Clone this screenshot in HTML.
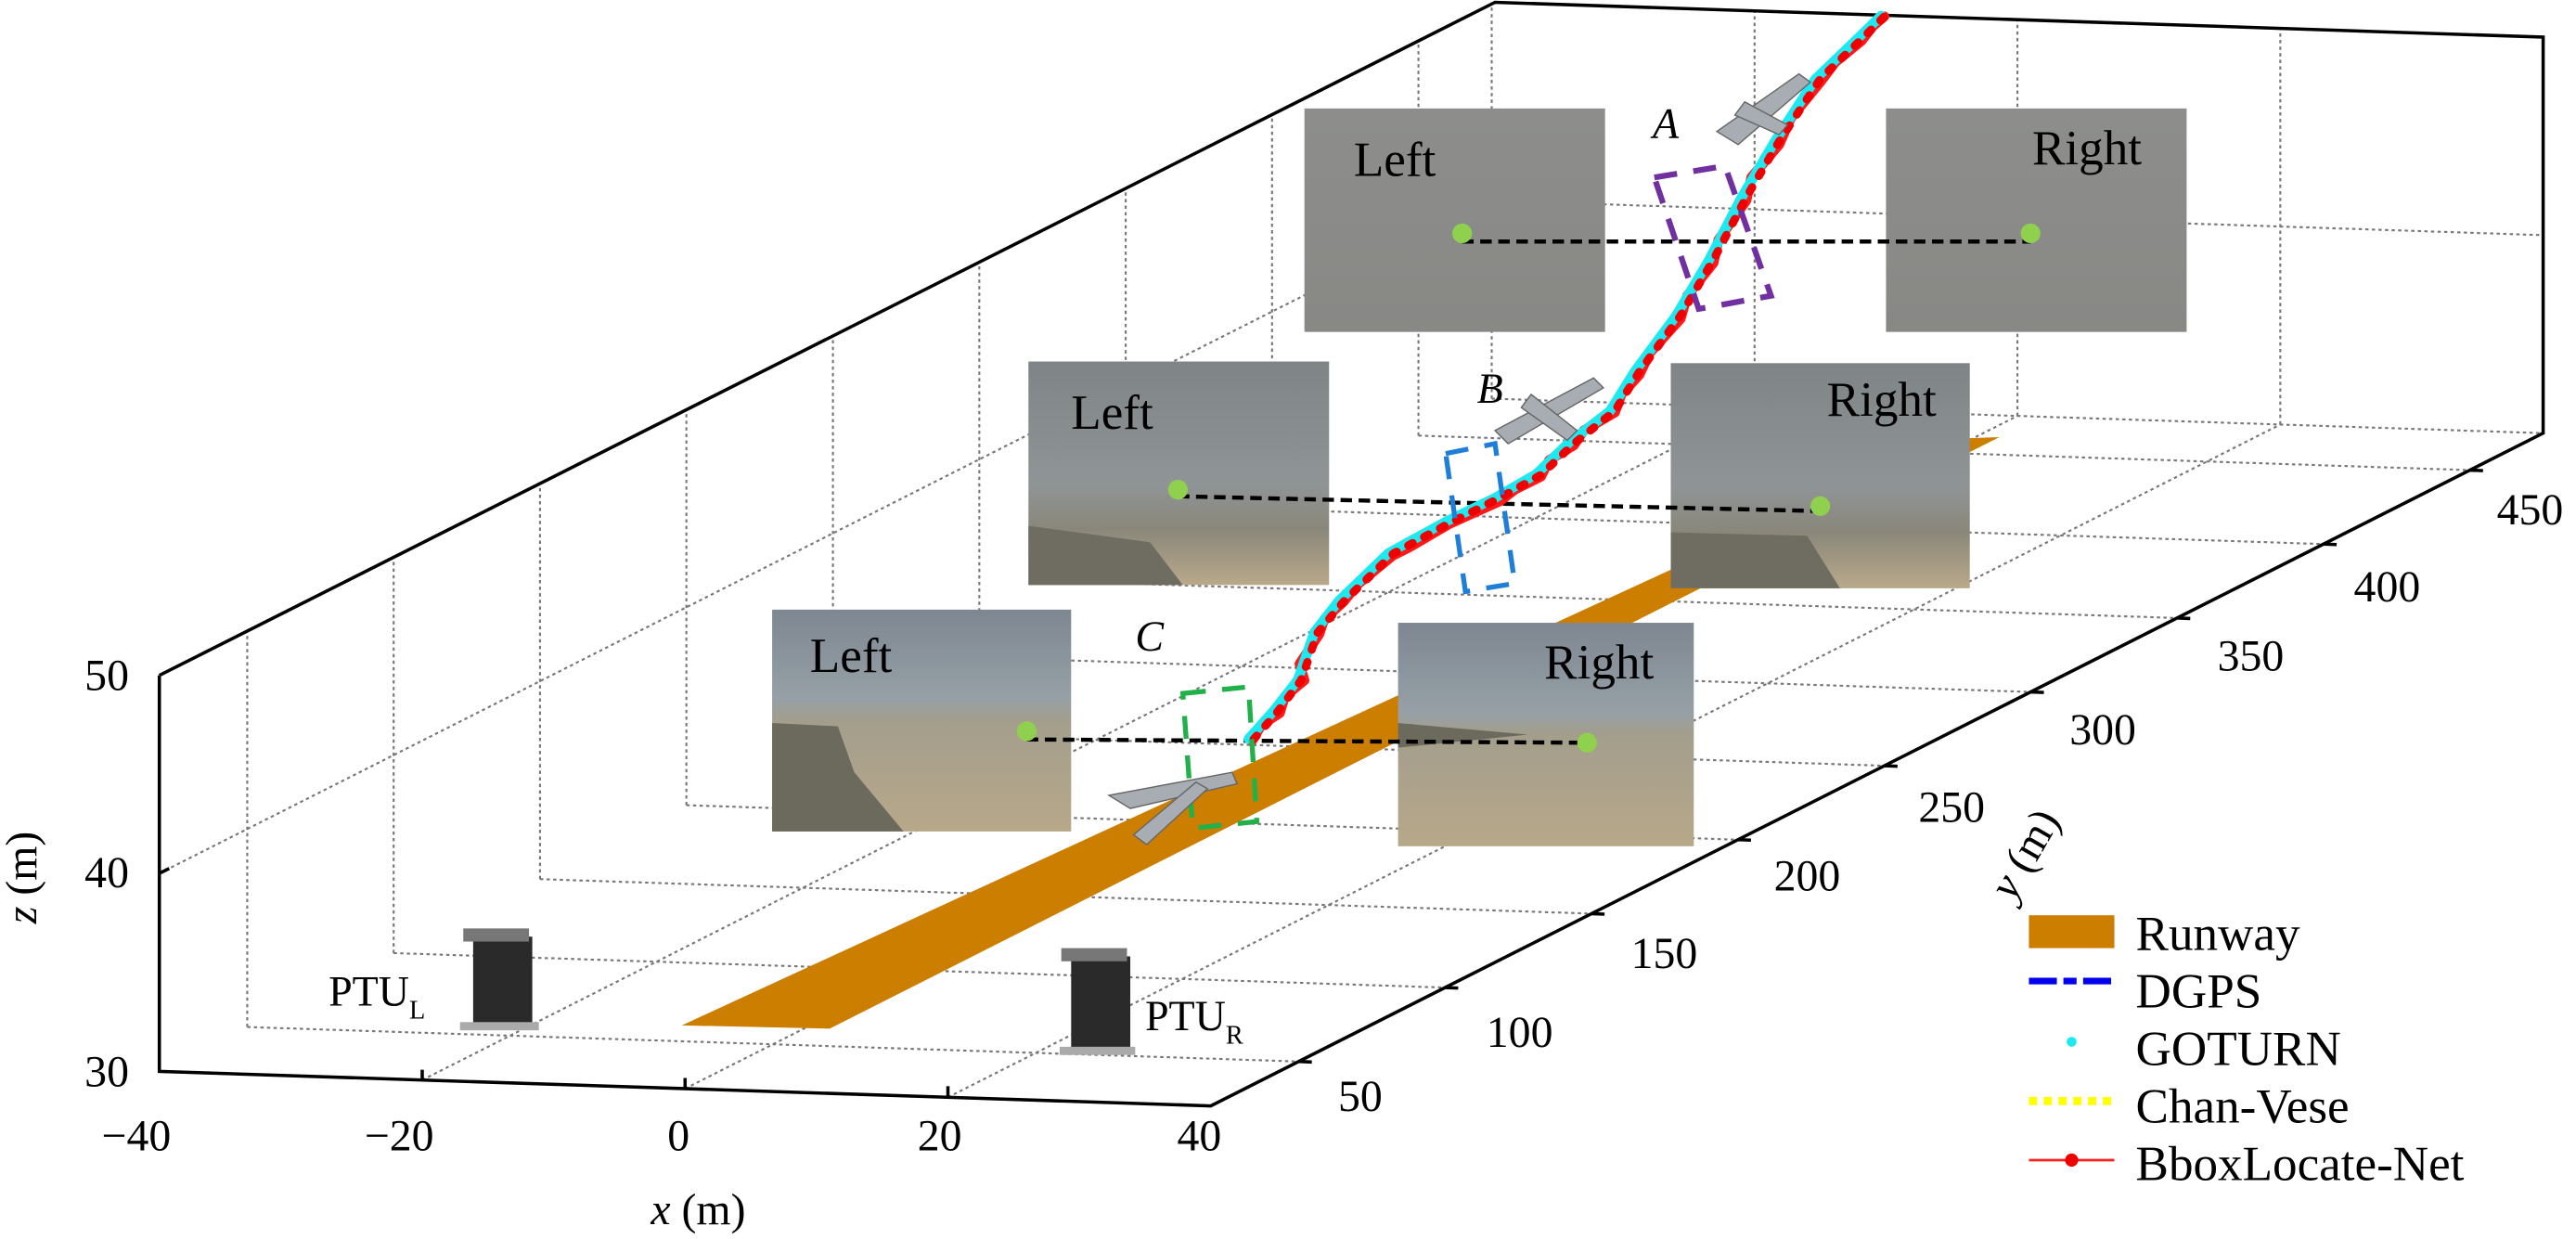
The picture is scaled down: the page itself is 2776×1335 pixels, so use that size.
<!DOCTYPE html>
<html><head><meta charset="utf-8"><style>
html,body{margin:0;padding:0;background:#fff;}
svg{display:block;}
text{font-family:'Liberation Serif','Times New Roman',Times,serif;}
</style></head><body>
<svg width="2776" height="1335" viewBox="0 0 1568 754" preserveAspectRatio="none" xmlns="http://www.w3.org/2000/svg">
<defs>
<linearGradient id="gTop" x1="0" y1="0" x2="0" y2="1"><stop offset="0" stop-color="#8d8e8c"/><stop offset="1" stop-color="#888885"/></linearGradient>
<linearGradient id="gMid" x1="0" y1="0" x2="0" y2="1"><stop offset="0" stop-color="#7f8487"/><stop offset="0.55" stop-color="#8f9496"/><stop offset="0.75" stop-color="#8a877a"/><stop offset="1" stop-color="#b9a98a"/></linearGradient>
<linearGradient id="gBot" x1="0" y1="0" x2="0" y2="1"><stop offset="0" stop-color="#7e8791"/><stop offset="0.4" stop-color="#96a0a6"/><stop offset="0.5" stop-color="#a39e8c"/><stop offset="1" stop-color="#b8a88a"/></linearGradient>
</defs>
<g stroke="#777" stroke-width="1.2" stroke-dasharray="2,2" fill="none">
<line x1="257" y1="657.25" x2="1068" y2="247.85"/><line x1="1068" y1="247.85" x2="1068" y2="6.85"/>
<line x1="417" y1="662.5" x2="1228" y2="253.1"/><line x1="1228" y1="253.1" x2="1228" y2="12.1"/>
<line x1="577" y1="667.75" x2="1388" y2="258.35"/><line x1="1388" y1="258.35" x2="1388" y2="17.35"/>
<line x1="150.5" y1="625" x2="790.5" y2="646"/><line x1="150.5" y1="625" x2="150.5" y2="384"/>
<line x1="239.6" y1="580" x2="879.6" y2="601"/><line x1="239.6" y1="580" x2="239.6" y2="339"/>
<line x1="328.7" y1="535" x2="968.7" y2="556"/><line x1="328.7" y1="535" x2="328.7" y2="294"/>
<line x1="417.8" y1="490" x2="1057.8" y2="511"/><line x1="417.8" y1="490" x2="417.8" y2="249"/>
<line x1="507" y1="445" x2="1147" y2="466"/><line x1="507" y1="445" x2="507" y2="204"/>
<line x1="596.1" y1="400.1" x2="1236.1" y2="421.1"/><line x1="596.1" y1="400.1" x2="596.1" y2="159.1"/>
<line x1="685.2" y1="355.1" x2="1325.2" y2="376.1"/><line x1="685.2" y1="355.1" x2="685.2" y2="114.1"/>
<line x1="774.3" y1="310.1" x2="1414.3" y2="331.1"/><line x1="774.3" y1="310.1" x2="774.3" y2="69.1"/>
<line x1="863.4" y1="265.1" x2="1503.4" y2="286.1"/><line x1="863.4" y1="265.1" x2="863.4" y2="24.1"/>
<line x1="97" y1="531.5" x2="908" y2="122.1"/><line x1="908" y1="122.1" x2="1548" y2="143.1"/>
<line x1="908" y1="242.6" x2="1548" y2="263.6"/><line x1="908" y1="242.6" x2="908" y2="1.6"/>
</g>
<polygon points="415,624 505,626 1217,266 1190,267" fill="#cc7e00"/>
<g stroke="#000" stroke-width="2" fill="none">
<polyline points="97,411 910,1.4 1548,22.6 1548,263.6 737,673 97,652 97,411"/>
<line x1="790.5" y1="646" x2="798.5" y2="646.3"/><line x1="879.6" y1="601" x2="887.6" y2="601.3"/>
<line x1="968.7" y1="556" x2="976.7" y2="556.3"/><line x1="1057.8" y1="511" x2="1065.8" y2="511.3"/>
<line x1="1147" y1="466" x2="1155" y2="466.3"/><line x1="1236.1" y1="421.1" x2="1244.1" y2="421.4"/>
<line x1="1325.2" y1="376.1" x2="1333.2" y2="376.4"/><line x1="1414.3" y1="331.1" x2="1422.3" y2="331.4"/>
<line x1="1503.4" y1="286.1" x2="1511.4" y2="286.4"/>
<line x1="257" y1="657.25" x2="257" y2="651"/><line x1="417" y1="662.5" x2="417" y2="656"/><line x1="577" y1="667.75" x2="577" y2="661"/>
<line x1="97" y1="531.5" x2="103" y2="528.5"/>
</g>
<rect x="794" y="66" width="183" height="136" fill="url(#gTop)"/>
<rect x="1148" y="66" width="183" height="136" fill="url(#gTop)"/>
<rect x="626" y="220" width="183" height="136" fill="url(#gMid)"/>
<polygon points="626,320 700,330 720,356 626,356" fill="#6f6d62"/>
<rect x="1017" y="221" width="182" height="137" fill="url(#gMid)"/>
<polygon points="1017,324 1100,326 1120,358 1017,358" fill="#6f6d62"/>
<rect x="470" y="371" width="182" height="135" fill="url(#gBot)"/>
<polygon points="470,440 510,442 520,470 550,506 470,506" fill="#6c6a5c"/>
<rect x="851" y="379" width="180" height="136" fill="url(#gBot)"/>
<polygon points="851,440 930,447 851,455" fill="#6c6a5c"/>
<g font-size="30" fill="#000">
<text x="824" y="107">Left</text><text x="1237" y="100">Right</text>
<text x="652" y="261">Left</text><text x="1112" y="253">Right</text>
<text x="493" y="409">Left</text><text x="940" y="413">Right</text>
</g>
<g stroke="#000" stroke-width="2.5" stroke-dasharray="7,4">
<line x1="890" y1="147" x2="1236" y2="147"/>
<line x1="717" y1="302" x2="1108" y2="311"/>
<line x1="625" y1="450" x2="966" y2="452"/>
</g>
<g fill="#8fd14f">
<circle cx="890" cy="142" r="6"/><circle cx="1236" cy="142" r="6"/>
<circle cx="717" cy="298" r="6"/><circle cx="1108" cy="308" r="6"/>
<circle cx="625" cy="445" r="6"/><circle cx="966" cy="452" r="6"/>
</g>
<g fill="none" stroke-linecap="round" stroke-linejoin="round">
<polyline stroke="#ff1a1a" stroke-width="6" points="762,451 768,441 779,434 782,424 794,414 791,404 803,386 806,377 818,366 826,356 848,338 858,333 882,319 893,314 913,305 922,298 938,290 943,280 958,271 964,262 983,251 987,240 998,228 1004,215 1023,194 1027,180 1043,160 1046,146 1063,122 1066,108 1083,88 1090,72 1108,50 1117,38 1133,25 1140,16 1147,10"/>
<polyline stroke="#1ee8f0" stroke-width="6" points="760,449.7 775,432.9 790,413.7 800,384.8 815,365.6 845,336.7 880,317.5 910,303 935,288.6 955,269.4 980,250.1 995,226.1 1020,192.4 1040,158.7 1060,120.3 1080,86.6 1105,48.1 1130,24.1 1145,9.6"/>
<polyline stroke="#ee0000" stroke-width="5" stroke-dasharray="3,8" points="763,450 777,434 792,414 802,385 818,366 848,337 883,318 913,303 938,289 958,270 983,250 998,226 1023,192 1043,158 1063,120 1083,86 1108,48 1133,24 1147,10"/>
</g>
<polygon points="1007,108 1050,101 1078,180 1034,188" fill="none" stroke="#7030a0" stroke-width="3.5" stroke-dasharray="14,10"/>
<polygon points="880,276 910,270 922,355 892,360" fill="none" stroke="#1f7fd8" stroke-width="3" stroke-dasharray="14,10"/>
<polygon points="720,422 760,418 765,500 726,504" fill="none" stroke="#22b04b" stroke-width="3" stroke-dasharray="14,10"/>
<g fill="#a8adb3" stroke="#666" stroke-width="0.8">
<polygon points="1045,80 1095,45 1102,50 1058,88"/><polygon points="1062,62 1088,76 1083,82 1056,70"/>
<polygon points="910,262 970,230 976,236 918,270"/><polygon points="932,240 960,262 954,268 926,248"/>
<polygon points="675,484 750,470 753,477 688,492"/><polygon points="690,508 728,476 735,480 698,514"/>
</g>
<g font-size="26" font-style="italic"><text x="1006" y="84">A</text><text x="899" y="245">B</text><text x="691" y="396">C</text></g>
<g fill="#2a2a2a"><rect x="288" y="570" width="36" height="55"/><rect x="652" y="582" width="36" height="57"/></g>
<g fill="#777"><rect x="282" y="565" width="40" height="8"/><rect x="646" y="577" width="40" height="8"/><rect x="280" y="622" width="48" height="5" fill="#aaa"/><rect x="645" y="637" width="46" height="5" fill="#aaa"/></g>
<g font-size="26"><text x="200" y="612">PTU<tspan font-size="16" dy="8">L</tspan></text><text x="697" y="627">PTU<tspan font-size="16" dy="8">R</tspan></text></g>
<g font-size="27" text-anchor="middle">
<text x="83" y="700">−40</text><text x="243" y="700">−20</text><text x="413" y="700">0</text><text x="572" y="700">20</text><text x="730" y="700">40</text>
<text x="65" y="420">50</text><text x="65" y="540">40</text><text x="65" y="661">30</text>
<text x="828" y="676">50</text><text x="925" y="637">100</text><text x="1013" y="589">150</text><text x="1100" y="542">200</text><text x="1188" y="500">250</text><text x="1280" y="453">300</text><text x="1370" y="408">350</text><text x="1453" y="366">400</text><text x="1540" y="319">450</text>
</g>
<g font-size="27"><text x="425" y="745" text-anchor="middle"><tspan font-style="italic">x</tspan> (m)</text>
<text transform="translate(22,534) rotate(-90)" text-anchor="middle"><tspan font-style="italic">z</tspan> (m)</text>
<text transform="translate(1240,524) rotate(-60)" text-anchor="middle"><tspan font-style="italic">y</tspan> (m)</text></g>
<rect x="1235" y="557" width="52" height="20" fill="#cc7e00"/>
<line x1="1235" y1="597" x2="1285" y2="597" stroke="#0000ee" stroke-width="4" stroke-dasharray="17,4,8,4"/>
<circle cx="1261" cy="634" r="3" fill="#1ee8f0"/>
<line x1="1235" y1="670" x2="1287" y2="670" stroke="#ffff00" stroke-width="5" stroke-dasharray="5,4"/>
<line x1="1235" y1="706" x2="1287" y2="706" stroke="#ff2020" stroke-width="1.5"/><circle cx="1261" cy="706" r="4" fill="#ee0000"/>
<g font-size="30"><text x="1300" y="578">Runway</text><text x="1300" y="613">DGPS</text><text x="1300" y="648">GOTURN</text><text x="1300" y="683">Chan-Vese</text><text x="1300" y="718">BboxLocate-Net</text></g>
</svg>
</body></html>
